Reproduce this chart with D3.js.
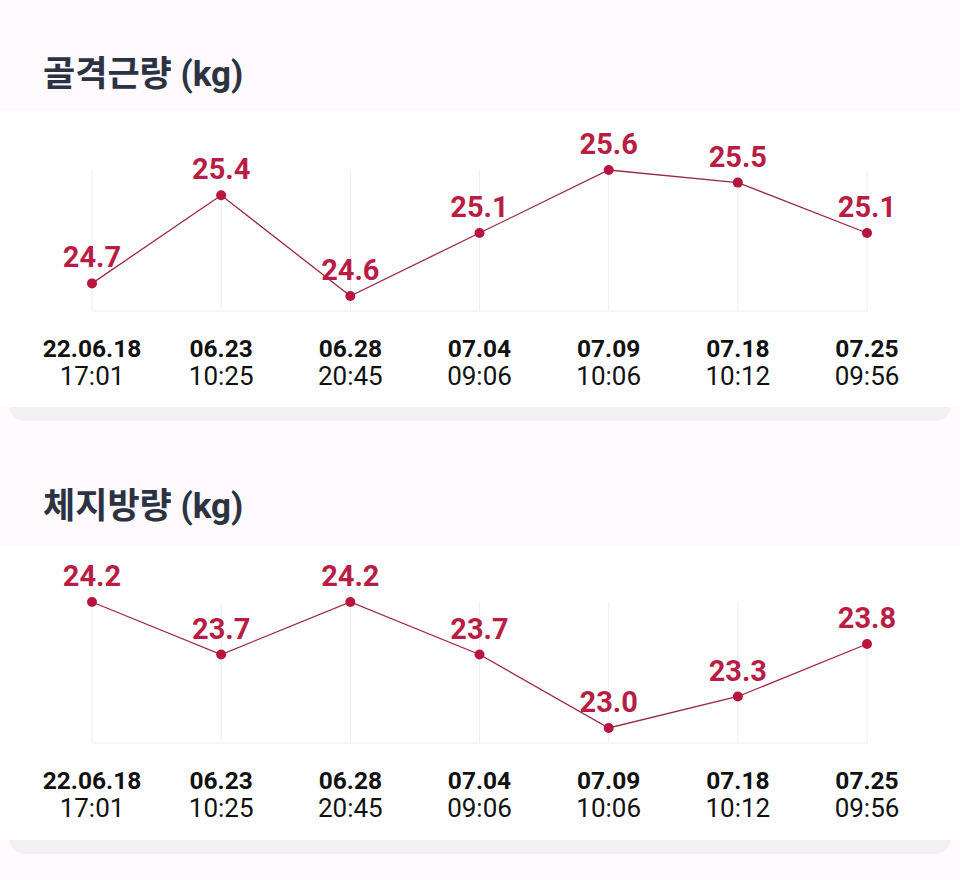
<!DOCTYPE html>
<html><head><meta charset="utf-8">
<script src="https://cdn.jsdelivr.net/npm/d3@7"></script>
<style>
html,body{margin:0;padding:0;background:#fdf9fc;}
svg{display:block;}
</style></head>
<body>
<svg id="c" width="960" height="880"></svg>
<script>
const dates = ["22.06.18","06.23","06.28","07.04","07.09","07.18","07.25"];
const times = ["17:01","10:25","20:45","09:06","10:06","10:12","09:56"];
const muscle = [24.7,25.4,24.6,25.1,25.6,25.5,25.1];
const fat = [24.2,23.7,24.2,23.7,23.0,23.3,23.8];
const titles = ["골격근량 (kg)","체지방량 (kg)"];

const svg = d3.select("#c");
const font = "Roboto, 'Noto Sans CJK KR', sans-serif";

const panels = [
  {title: titles[0], values: muscle, titleY: 86, cardTop: 111, cardBottom: 407, plotTop: 170},
  {title: titles[1], values: fat, titleY: 518, cardTop: 545, cardBottom: 840, plotTop: 602}
];

const x = d3.scalePoint().domain(dates).range([92, 867]);

panels.forEach(p => {
  svg.append("rect").attr("x", 10).attr("y", p.cardBottom - 14).attr("width", 940).attr("height", 28)
    .attr("rx", 16).attr("fill", "#f3f0f4");
  svg.append("rect").attr("x", 0).attr("y", p.cardTop).attr("width", 960).attr("height", p.cardBottom - p.cardTop)
    .attr("fill", "#ffffff");

  svg.append("text").attr("x", 43).attr("y", p.titleY).text(p.title)
    .attr("font-family", font).attr("font-weight", 700).attr("font-size", 35).attr("fill", "#2b3343");

  const ext = d3.extent(p.values);
  const y = d3.scaleLinear().domain(ext).range([p.plotTop + 126, p.plotTop]);
  const base = p.plotTop + 141;

  const g = svg.append("g");
  g.selectAll("line.grid").data(dates).join("line")
    .attr("x1", d => x(d)).attr("x2", d => x(d))
    .attr("y1", p.plotTop).attr("y2", base)
    .attr("stroke", "#eeeeee").attr("stroke-width", 1);
  g.append("line").attr("x1", x(dates[0])).attr("x2", x(dates[dates.length-1]))
    .attr("y1", base).attr("y2", base).attr("stroke", "#eeeeee").attr("stroke-width", 1);

  const line = d3.line().x((d,i) => x(dates[i])).y(d => y(d));
  g.append("path").datum(p.values).attr("d", line).attr("fill", "none")
    .attr("stroke", "#9a2944").attr("stroke-width", 1.3);

  g.selectAll("circle").data(p.values).join("circle")
    .attr("cx", (d,i) => x(dates[i])).attr("cy", d => y(d)).attr("r", 5)
    .attr("fill", "#b8143f");

  g.selectAll("text.val").data(p.values).join("text")
    .attr("x", (d,i) => x(dates[i])).attr("y", d => y(d) - 16)
    .attr("text-anchor", "middle").text(d => d.toFixed(1))
    .attr("font-family", font).attr("font-weight", 700).attr("font-size", 29).attr("fill", "#b81d45");

  g.selectAll("text.date").data(dates).join("text")
    .attr("x", d => x(d)).attr("y", base + 46).attr("text-anchor", "middle").text(d => d)
    .attr("font-family", font).attr("font-weight", 700).attr("font-size", 24.5).attr("fill", "#111111");
  g.selectAll("text.time").data(times).join("text")
    .attr("x", (d,i) => x(dates[i])).attr("y", base + 74).attr("text-anchor", "middle").text(d => d)
    .attr("font-family", font).attr("font-weight", 400).attr("font-size", 26).attr("fill", "#111111");
});
</script>
</body></html>
